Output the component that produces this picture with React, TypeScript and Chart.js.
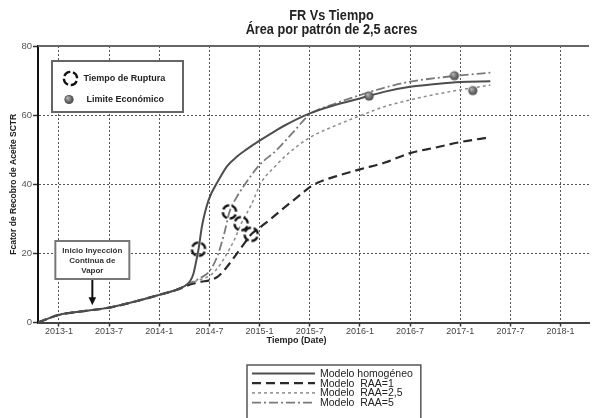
import React, { useEffect, useRef } from "react";
import { Chart, registerables } from "chart.js";

Chart.register(...registerables);

// ---- Data (months since 2013-1 on x, recovery factor % on y) ----
const tickMonths = [0, 6, 12, 18, 24, 30, 36, 42, 48, 54, 60];
const tickLabels = ["2013-1", "2013-7", "2014-1", "2014-7", "2015-1", "2015-7", "2016-1", "2016-7", "2017-1", "2017-7", "2018-1"];
const yTickValues = [0, 20, 40, 60, 80];

const homogMonths = [-2.5, 0, 3, 6, 9, 12, 14, 15, 15.7, 16.1, 16.4, 16.7, 17.1, 17.9, 19.1, 20.1, 21.3, 22.4, 24, 26, 27, 30, 33, 36, 39, 42, 45, 48, 51.6];
const homogValues = [0, 2.2, 3.3, 4.3, 6.0, 8.0, 9.4, 10.5, 12.0, 14.2, 17.5, 21.2, 27.7, 35.4, 41.2, 45.2, 48.0, 50.0, 52.6, 55.6, 57.0, 60.5, 62.9, 64.8, 66.8, 68.2, 69.0, 69.6, 69.8];

const raa1Months = [-2.5, 0, 3, 6, 9, 12, 14, 16, 17, 18, 19, 20, 21, 22, 23, 24.1, 25.2, 27.1, 29.1, 30.1, 31, 33, 36, 39, 42, 45, 48, 51.6];
const raa1Values = [0, 2.2, 3.3, 4.3, 6.0, 8.0, 9.4, 11.2, 11.8, 12.2, 13.3, 15.8, 19.0, 22.3, 25.5, 27.6, 29.7, 33.5, 37.4, 39.3, 40.5, 42.2, 44.3, 46.3, 49.0, 50.6, 52.2, 53.6];

const raa25Months = [-2.5, 0, 3, 6, 9, 12, 14, 16, 17, 18, 19, 20, 21, 21.8, 23, 24.2, 26, 27.1, 30, 33, 36, 39, 42, 45, 48, 51.6];
const raa25Values = [0, 2.2, 3.3, 4.3, 6.0, 8.0, 9.4, 11.6, 12.5, 13.5, 15.8, 19.5, 24.0, 28.6, 34.0, 40.5, 45.5, 48.2, 53.5, 56.9, 59.8, 62.5, 64.4, 66.0, 67.3, 68.7];

const raa5Months = [-2.5, 0, 3, 6, 9, 12, 14, 16, 17, 18, 19, 19.8, 20.4, 21.2, 22.6, 24, 26, 28, 30, 33, 36, 39, 42, 45, 48, 51.6];
const raa5Values = [0, 2.2, 3.3, 4.3, 6.0, 8.0, 9.4, 11.8, 13.0, 14.8, 19.5, 26.0, 32.0, 36.0, 41.2, 45.6, 49.8, 55.0, 60.2, 63.3, 65.8, 68.0, 69.7, 70.7, 71.5, 72.3];

const ruptureMonths = [16.7, 20.4, 21.8, 23.0];
const ruptureValues = [21.2, 32.0, 28.6, 25.5];

const limitMonths = [37.1, 47.3, 49.5];
const limitValues = [65.5, 71.4, 67.1];

const injectionMonth = 4;
const injectionArrowTipValue = 5;

const seriesLabels = ["Modelo homogéneo", "Modelo  RAA=1", "Modelo  RAA=2,5", "Modelo  RAA=5"];
const markerLabels = ["Tiempo de Ruptura", "Limite Económico"];
const titleLines = ["FR Vs Tiempo", "Área por patrón de 2,5 acres"];
const xTitle = "Tiempo (Date)";
const yTitle = "Fcator de Recobro de Aceite SCTR";
const annotationLines = ["Inicio Inyección", "Continua de", "Vapor"];

const FONT = '"Liberation Sans", Arial, sans-serif';

function pts(xs: number[], ys: number[]) {
  return xs.map((x, i) => ({ x, y: ys[i] }));
}

function drawRing(g: CanvasRenderingContext2D, cx: number, cy: number, r: number) {
  g.save();
  g.strokeStyle = "#111";
  g.lineWidth = 2.4;
  g.setLineDash([]);
  for (let k = 0; k < 4; k++) {
    const a0 = ((k * 90 + 22) * Math.PI) / 180;
    const a1 = ((k * 90 + 88) * Math.PI) / 180;
    g.beginPath();
    g.arc(cx, cy, r, a0, a1);
    g.stroke();
  }
  g.restore();
}

function drawSphere(g: CanvasRenderingContext2D, cx: number, cy: number, r: number) {
  g.save();
  const grad = g.createRadialGradient(cx - r * 0.35, cy - r * 0.4, r * 0.1, cx, cy, r);
  grad.addColorStop(0, "#b5b5b5");
  grad.addColorStop(0.6, "#6e6e6e");
  grad.addColorStop(1, "#444");
  g.fillStyle = grad;
  g.beginPath();
  g.arc(cx, cy, r, 0, Math.PI * 2);
  g.fill();
  g.restore();
}

function makeRingCanvas() {
  const c = document.createElement("canvas");
  c.width = 20;
  c.height = 20;
  drawRing(c.getContext("2d")!, 10, 10, 6.6);
  return c;
}

function makeSphereCanvas() {
  const c = document.createElement("canvas");
  c.width = 12;
  c.height = 12;
  drawSphere(c.getContext("2d")!, 6, 6, 4.6);
  return c;
}

function hasNarrow(ctx: CanvasRenderingContext2D) {
  const s = "Área por patrón de 2,5 acres";
  ctx.save();
  ctx.font = 'bold 20px "Liberation Sans Narrow", monospace';
  const a = ctx.measureText(s).width;
  ctx.font = "bold 20px monospace";
  const b = ctx.measureText(s).width;
  ctx.restore();
  return Math.abs(a - b) > 0.5;
}

function narrowText(ctx: CanvasRenderingContext2D, text: string, x: number, y: number, size: number, narrow: boolean) {
  ctx.save();
  ctx.textAlign = "center";
  ctx.textBaseline = "middle";
  if (narrow) {
    ctx.font = `bold ${size}px "Liberation Sans Narrow"`;
    ctx.fillText(text, x, y);
  } else {
    ctx.translate(x, y);
    ctx.scale(0.82, 1);
    ctx.font = `bold ${size}px ${FONT}`;
    ctx.fillText(text, 0, 0);
  }
  ctx.restore();
}

const decorPlugin = {
  id: "decor",
  afterDraw(chart: any) {
    const { ctx, chartArea: ca, scales } = chart;
    const xs = scales.x;
    const ys = scales.y;
    const narrow = hasNarrow(ctx);
    ctx.save();
    ctx.setLineDash([]);

    // top frame line
    ctx.strokeStyle = "#666";
    ctx.lineWidth = 2;
    ctx.beginPath();
    ctx.moveTo(ca.left, ca.top);
    ctx.lineTo(ca.right, ca.top);
    ctx.stroke();

    // titles
    ctx.fillStyle = "#222";
    const tcx = (ca.left + ca.right) / 2 + 18;
    narrowText(ctx, titleLines[0], tcx, 16, 15.5, narrow);
    narrowText(ctx, titleLines[1], tcx, 30, 15.5, narrow);

    // x axis title
    ctx.fillStyle = "#222";
    ctx.font = `bold 9px ${FONT}`;
    ctx.textAlign = "center";
    ctx.textBaseline = "middle";
    ctx.fillText(xTitle, (ca.left + ca.right) / 2 - 17, ca.bottom + 18);

    // in-plot marker legend
    const lx = ca.left + 14;
    const ly = ca.top + 15;
    ctx.fillStyle = "#fff";
    ctx.fillRect(lx, ly, 131, 51);
    ctx.strokeStyle = "#666";
    ctx.lineWidth = 2;
    ctx.strokeRect(lx, ly, 131, 51);
    drawRing(ctx, lx + 18.5, ly + 17.5, 6.6);
    drawSphere(ctx, lx + 17, ly + 38.5, 4.6);
    ctx.fillStyle = "#222";
    ctx.font = `bold 9px ${FONT}`;
    ctx.textAlign = "left";
    ctx.textBaseline = "middle";
    ctx.fillText(markerLabels[0], lx + 31.5, ly + 17.5);
    ctx.fillText(markerLabels[1], lx + 34.5, ly + 38.5);

    // injection annotation
    const ax = xs.getPixelForValue(injectionMonth);
    const tipY = ys.getPixelForValue(injectionArrowTipValue);
    const bTop = 241;
    const bBot = 279;
    ctx.fillStyle = "#fff";
    ctx.fillRect(ax - 37, bTop, 74, bBot - bTop);
    ctx.strokeStyle = "#777";
    ctx.lineWidth = 2;
    ctx.strokeRect(ax - 37, bTop, 74, bBot - bTop);
    ctx.fillStyle = "#333";
    ctx.font = `bold 8px ${FONT}`;
    ctx.textAlign = "center";
    ctx.textBaseline = "middle";
    annotationLines.forEach((t, i) => ctx.fillText(t, ax, bTop + 9.5 + i * 10));
    ctx.strokeStyle = "#111";
    ctx.lineWidth = 2;
    ctx.beginPath();
    ctx.moveTo(ax, bBot + 1);
    ctx.lineTo(ax, tipY - 6);
    ctx.stroke();
    ctx.fillStyle = "#111";
    ctx.beginPath();
    ctx.moveTo(ax, tipY);
    ctx.lineTo(ax - 3.8, tipY - 8);
    ctx.lineTo(ax + 3.8, tipY - 8);
    ctx.closePath();
    ctx.fill();

    // bottom series legend
    const bx = 247;
    const by = 365;
    ctx.font = `10.5px ${FONT}`;
    const maxW = Math.max(...seriesLabels.map((s) => ctx.measureText(s).width));
    ctx.fillStyle = "#fff";
    ctx.fillRect(bx, by, 73 + maxW + 8, 70);
    ctx.strokeStyle = "#555";
    ctx.lineWidth = 1.5;
    ctx.strokeRect(bx, by, 73 + maxW + 8, 70);
    const lineDs = chart.data.datasets.slice(2);
    lineDs.forEach((ds: any, i: number) => {
      const ry = by + 8.5 + i * 9.7;
      ctx.save();
      ctx.strokeStyle = ds.borderColor;
      ctx.lineWidth = ds.borderWidth;
      ctx.setLineDash(ds.borderDash || []);
      ctx.beginPath();
      ctx.moveTo(bx + 5, ry);
      ctx.lineTo(bx + 68, ry);
      ctx.stroke();
      ctx.restore();
      ctx.fillStyle = "#222";
      ctx.textAlign = "left";
      ctx.textBaseline = "middle";
      ctx.fillText(seriesLabels[i], bx + 73, ry + 0.5);
    });

    ctx.restore();
  },
};

export default function App() {
  const ref = useRef<HTMLCanvasElement>(null);

  useEffect(() => {
    document.body.style.margin = "0";
    const canvas = ref.current!;
    const ringImg = makeRingCanvas();
    const sphereImg = makeSphereCanvas();
    const lineBase = {
      pointRadius: 0,
      pointHoverRadius: 0,
      fill: false,
      tension: 0.4,
      cubicInterpolationMode: "monotone" as const,
    };
    const chart = new Chart(canvas, {
      type: "line",
      data: {
        datasets: [
          {
            label: markerLabels[0],
            data: pts(ruptureMonths, ruptureValues),
            showLine: false,
            pointStyle: ringImg as any,
            pointRadius: 8,
            pointHoverRadius: 8,
            borderColor: "#111",
            backgroundColor: "#111",
          },
          {
            label: markerLabels[1],
            data: pts(limitMonths, limitValues),
            showLine: false,
            pointStyle: sphereImg as any,
            pointRadius: 5,
            pointHoverRadius: 5,
            borderColor: "#555",
            backgroundColor: "#555",
          },
          {
            label: seriesLabels[0],
            data: pts(homogMonths, homogValues),
            borderColor: "#4e4e4e",
            borderWidth: 2,
            borderDash: [],
            ...lineBase,
          },
          {
            label: seriesLabels[1],
            data: pts(raa1Months, raa1Values),
            borderColor: "#2a2a2a",
            borderWidth: 2.2,
            borderDash: [9, 5],
            ...lineBase,
          },
          {
            label: seriesLabels[2],
            data: pts(raa25Months, raa25Values),
            borderColor: "#8c8c8c",
            borderWidth: 1.5,
            borderDash: [3, 3],
            ...lineBase,
          },
          {
            label: seriesLabels[3],
            data: pts(raa5Months, raa5Values),
            borderColor: "#7a7a7a",
            borderWidth: 1.8,
            borderDash: [9, 3, 2, 3],
            ...lineBase,
          },
        ],
      },
      options: {
        responsive: false,
        maintainAspectRatio: false,
        devicePixelRatio: 1,
        animation: false,
        layout: { padding: { top: 46, right: 0, bottom: 75.5, left: 0 } },
        plugins: {
          legend: { display: false },
          title: { display: false },
          tooltip: { enabled: false },
        },
        scales: {
          x: {
            type: "linear",
            min: -2.5,
            max: 63.4,
            afterBuildTicks: (s: any) => {
              s.ticks = tickMonths.map((v) => ({ value: v }));
            },
            afterFit: (s: any) => {
              s.height = 20;
            },
            ticks: {
              autoSkip: false,
              maxRotation: 0,
              padding: 0,
              color: "#444",
              font: { family: FONT, size: 9 },
              callback: (v: any) => {
                const i = tickMonths.indexOf(Number(v));
                return i >= 0 ? tickLabels[i] : "";
              },
            },
            grid: {
              color: "#555",
              lineWidth: 1,
              drawTicks: true,
              tickLength: 4,
              tickColor: "#333",
              tickWidth: 1.5,
            },
            border: { display: true, color: "#444", width: 2, dash: [2, 2] },
          },
          y: {
            type: "linear",
            min: 0,
            max: 80,
            afterBuildTicks: (s: any) => {
              s.ticks = yTickValues.map((v) => ({ value: v }));
            },
            afterFit: (s: any) => {
              s.width = 38;
            },
            ticks: {
              padding: 1,
              color: "#555",
              font: { family: FONT, size: 9.5 },
            },
            grid: {
              color: (c: any) => (c.tick && (c.tick.value === 0 || c.tick.value === 80) ? "rgba(0,0,0,0)" : "#555"),
              lineWidth: 1,
              drawTicks: true,
              tickLength: 5,
              tickColor: "#333",
              tickWidth: 1.5,
            },
            border: { display: true, color: "#111", width: 2, dash: [2, 2] },
            title: {
              display: true,
              text: yTitle,
              color: "#222",
              font: { family: FONT, size: 8.5, weight: "bold" },
              padding: { top: 9, bottom: 0 },
            },
          },
        },
      },
      plugins: [decorPlugin],
    });
    return () => chart.destroy();
  }, []);

  return (
    <div style={{ width: 598, height: 418, background: "#fff" }}>
      <canvas ref={ref} width={598} height={418} style={{ display: "block", width: 598, height: 418 }} />
    </div>
  );
}
